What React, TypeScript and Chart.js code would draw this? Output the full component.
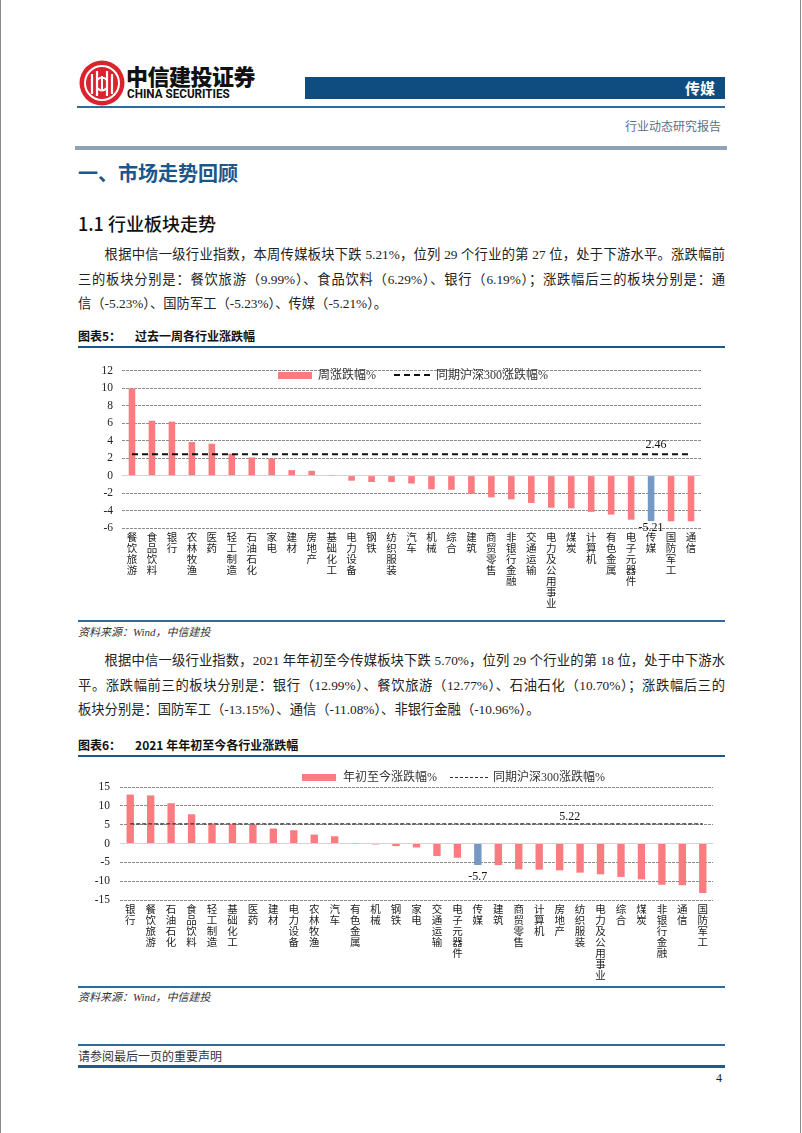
import React, { useEffect, useRef } from 'react';
import { Chart, registerables } from 'chart.js';

Chart.register(...registerables);

// ---------------- DATA ----------------
const weekCategories = ['餐饮旅游', '食品饮料', '银行', '农林牧渔', '医药', '轻工制造', '石油石化', '家电', '建材', '房地产', '基础化工', '电力设备', '钢铁', '纺织服装', '汽车', '机械', '综合', '建筑', '商贸零售', '非银行金融', '交通运输', '电力及公用事业', '煤炭', '计算机', '有色金属', '电子元器件', '传媒', '国防军工', '通信'];
const weekChange = [9.99, 6.29, 6.19, 3.85, 3.66, 2.52, 2.08, 1.97, 0.63, 0.55, 0.02, -0.58, -0.73, -0.74, -0.91, -1.56, -1.62, -2.08, -2.49, -2.72, -3.13, -3.68, -3.75, -4.15, -4.46, -5.05, -5.21, -5.23, -5.23];
const weekHs300 = 2.46;
const weekTicks = { min: -6, max: 12, step: 2 };

const ytdCategories = ['银行', '餐饮旅游', '石油石化', '食品饮料', '轻工制造', '基础化工', '医药', '建材', '电力设备', '农林牧渔', '汽车', '有色金属', '机械', '钢铁', '家电', '交通运输', '电子元器件', '传媒', '建筑', '商贸零售', '计算机', '房地产', '纺织服装', '电力及公用事业', '综合', '煤炭', '非银行金融', '通信', '国防军工'];
const ytdChange = [12.99, 12.77, 10.70, 7.76, 5.28, 5.19, 5.01, 3.96, 3.52, 2.37, 1.93, 0.04, -0.26, -0.70, -1.05, -3.34, -3.78, -5.70, -5.74, -6.86, -6.95, -7.12, -7.74, -8.18, -8.88, -9.50, -10.96, -11.08, -13.15];
const ytdHs300 = 5.22;
const ytdTicks = { min: -15, max: 15, step: 5 };

const highlight = '传媒';

// ---------------- STYLE ----------------
const RED = '#fa7c80';
const BLUE = '#7599c3';
const SERIF = '"Liberation Serif", "Times New Roman", "Noto Sans CJK SC", serif';
const SANS = '"Noto Sans CJK SC", "Noto Sans", sans-serif';
const NAVY = '#1d5689';

const valueLabels = {
  id: 'valueLabels',
  afterDatasetsDraw(chart: any, _args: any, opts: any) {
    const ctx = chart.ctx;
    (opts.items || []).forEach((it: any) => {
      const el = chart.getDatasetMeta(it.dataset).data[it.index];
      if (!el) return;
      const p = el.getProps(['x', 'y', 'base'], true);
      ctx.save();
      ctx.font = `12px ${SERIF}`;
      ctx.fillStyle = '#111';
      ctx.textAlign = 'center';
      if (it.pos === 'above') {
        ctx.textBaseline = 'bottom';
        ctx.fillText(it.text, p.x + (it.dx || 0), p.y - (it.dy || 0));
      } else {
        ctx.textBaseline = 'top';
        ctx.fillText(it.text, p.x + (it.dx || 0), p.y + (it.dy || 0));
      }
      ctx.restore();
    });
  },
};

type ChartProps = {
  categories: string[];
  values: number[];
  refValue: number;
  ticks: { min: number; max: number; step: number };
  barName: string;
  lineName: string;
  left: number; top: number; width: number; height: number;
  padTop: number; padRight: number; yWidth: number; xHeight: number;
  barPct: number; lineWidth: number; lineDash: number[]; lineColor: string;
  lineLabelIndex: number; lineLabelDx: number; lineLabelDy: number;
  barLabelDy: number; yPad: number;
};

function IndustryChart(p: ChartProps) {
  const ref = useRef<HTMLCanvasElement | null>(null);
  useEffect(() => {
    if (!ref.current) return;
    const hi = p.categories.indexOf(highlight);
    const chart = new Chart(ref.current, {
      type: 'bar',
      data: {
        labels: p.categories.map((c) => Array.from(c)),
        datasets: [
          {
            type: 'line',
            label: p.lineName,
            data: p.categories.map(() => p.refValue),
            borderColor: p.lineColor,
            borderWidth: p.lineWidth,
            borderDash: p.lineDash,
            pointRadius: 0,
            fill: false,
            order: 0,
          } as any,
          {
            type: 'bar',
            label: p.barName,
            data: p.values,
            backgroundColor: p.categories.map((c) => (c === highlight ? BLUE : RED)),
            barPercentage: p.barPct,
            categoryPercentage: 1,
            order: 1,
          },
        ],
      },
      options: {
        responsive: false,
        maintainAspectRatio: false,
        animation: false,
        layout: { padding: { top: p.padTop, right: p.padRight, bottom: 0, left: 0 } },
        plugins: {
          legend: { display: false },
          tooltip: { enabled: false },
          valueLabels: {
            items: [
              { dataset: 0, index: p.lineLabelIndex, text: String(p.refValue), pos: 'above', dx: p.lineLabelDx, dy: p.lineLabelDy },
              { dataset: 1, index: hi, text: String(p.values[hi]), pos: 'below', dx: 0, dy: p.barLabelDy },
            ],
          },
        } as any,
        scales: {
          x: {
            grid: { display: false, drawTicks: false },
            border: { display: false },
            ticks: {
              autoSkip: false,
              maxRotation: 0,
              minRotation: 0,
              padding: 5,
              color: '#222',
              font: { family: SERIF, size: 10.5, lineHeight: 1.05 },
            },
            afterFit: (s: any) => { s.height = p.xHeight; },
          },
          y: {
            min: p.ticks.min,
            max: p.ticks.max,
            ticks: {
              stepSize: p.ticks.step,
              padding: p.yPad,
              color: '#222',
              font: { family: SERIF, size: 11.5 },
            },
            grid: {
              drawTicks: false,
              lineWidth: 1,
              color: (c: any) => (c.tick && c.tick.value === 0 ? '#d4d4d4' : '#8c8c8c'),
            },
            border: {
              display: false,
              dash: (c: any) => (c.tick && c.tick.value === 0 ? [] : [3, 1]),
            } as any,
            afterFit: (s: any) => { s.width = p.yWidth; },
          },
        },
      },
      plugins: [valueLabels as any],
    });
    return () => chart.destroy();
  }, []);
  return (
    <canvas
      ref={ref}
      width={p.width}
      height={p.height}
      style={{ position: 'absolute', left: p.left, top: p.top, width: p.width, height: p.height }}
    />
  );
}

function T(props: { x: number; y: number; size: number; children: any; style?: any; right?: boolean }) {
  const base: any = {
    position: 'absolute',
    top: props.y - props.size * 0.6,
    lineHeight: `${props.size * 1.2}px`,
    fontSize: props.size,
    whiteSpace: 'nowrap',
    margin: 0,
  };
  if (props.right) base.right = 802 - props.x; else base.left = props.x;
  return <div style={{ ...base, ...(props.style || {}) }}>{props.children}</div>;
}

function Line(props: { x: number; y: number; w: number; h: number; color: string }) {
  return <div style={{ position: 'absolute', left: props.x, top: props.y, width: props.w, height: props.h, background: props.color }} />;
}

function PLine(props: { y: number; text: string; indent?: boolean; justify?: boolean }) {
  return (
    <div
      style={{
        position: 'absolute',
        left: 78,
        top: props.y - 10,
        width: 647,
        height: 20,
        lineHeight: '20px',
        fontSize: 13.3,
        fontFamily: SERIF,
        color: '#222',
        whiteSpace: 'nowrap',
        textIndent: props.indent ? '2em' : 0,
        textAlign: 'justify',
        textAlignLast: props.justify ? 'justify' : 'left',
      } as any}
    >
      {props.text}
    </div>
  );
}

function Legend(props: { y: number; rectX: number; barName: string; textX: number; dashX: number; dashW: number; dashColor: string; dashH: number; lineTextX: number; lineName: string }) {
  return (
    <>
      <div style={{ position: 'absolute', left: props.rectX, top: props.y - 3.5, width: 34, height: 7, background: RED }} />
      <T x={props.textX} y={props.y} size={12} style={{ fontFamily: SERIF, color: '#333' }}>{props.barName}</T>
      <div style={{ position: 'absolute', left: props.dashX, top: props.y - props.dashH / 2, width: props.dashW, height: 0, borderTop: `${props.dashH}px dashed ${props.dashColor}` }} />
      <T x={props.lineTextX} y={props.y} size={12} style={{ fontFamily: SERIF, color: '#333' }}>{props.lineName}</T>
    </>
  );
}

function Logo() {
  return (
    <svg width="46" height="46" viewBox="0 0 46 46" style={{ position: 'absolute', left: 79, top: 60 }}>
      <circle cx="23" cy="23" r="22.5" fill="#d9232d" />
      <circle cx="23" cy="23" r="17" fill="none" stroke="#fff" strokeWidth="2" />
      <path d="M13 14 L13 34 M33 14 L33 34" stroke="#fff" strokeWidth="2.2" fill="none" />
      <path d="M18 11 L18 36 M28 11 L28 36" stroke="#fff" strokeWidth="2.2" fill="none" />
      <path d="M18 20 Q23 15 28 20" stroke="#fff" strokeWidth="2" fill="none" />
      <path d="M18 28 Q23 33 28 28" stroke="#fff" strokeWidth="2" fill="none" />
      <path d="M23 16 L23 31" stroke="#fff" strokeWidth="2" />
    </svg>
  );
}

export default function App() {
  useEffect(() => {
    document.body.style.margin = '0';
  }, []);
  return (
    <div style={{ position: 'absolute', left: 0, top: 0, width: 802, height: 1133, background: '#fff', overflow: 'hidden', fontFamily: SERIF }}>
      <div style={{ position: 'absolute', left: 0, top: 0, width: 1, height: 1133, background: '#8a8a8a' }} />
      <div style={{ position: 'absolute', left: 800, top: 0, width: 1, height: 1133, background: '#8a8a8a' }} />

      {/* header */}
      <Logo />
      <T x={126} y={75} size={22} style={{ fontFamily: SANS, fontWeight: 900, color: '#111', letterSpacing: -0.5 }}>中信建投证券</T>
      <T x={127} y={94} size={13} style={{ fontFamily: '"Liberation Sans Narrow", "Roboto", sans-serif', fontWeight: 700, color: '#111', transform: 'scaleX(0.9)', transformOrigin: 'left' }}>CHINA SECURITIES</T>
      <div style={{ position: 'absolute', left: 305, top: 77, width: 420, height: 22, background: '#0f4c7f' }} />
      <T x={715} y={88} size={15} right style={{ fontFamily: SANS, fontWeight: 700, color: '#fff' }}>传媒</T>
      <Line x={77} y={106} w={648} h={1.5} color="#2c6aa0" />
      <T x={721} y={127} size={12} right style={{ fontFamily: SERIF, color: '#5b7088' }}>行业动态研究报告</T>
      <Line x={75} y={146} w={652} h={4} color="#8ea3b7" />

      {/* headings */}
      <T x={78} y={173} size={20} style={{ fontFamily: SANS, fontWeight: 700, color: NAVY }}>一、市场走势回顾</T>
      <T x={78} y={224} size={18} style={{ fontFamily: SANS, fontWeight: 500, color: '#111' }}>1.1 行业板块走势</T>

      <PLine y={255} indent justify text="根据中信一级行业指数，本周传媒板块下跌 5.21%，位列 29 个行业的第 27 位，处于下游水平。涨跌幅前" />
      <PLine y={280} justify text="三的板块分别是：餐饮旅游（9.99%）、食品饮料（6.29%）、银行（6.19%）；涨跌幅后三的板块分别是：通" />
      <PLine y={304} text="信（-5.23%）、国防军工（-5.23%）、传媒（-5.21%）。" />

      {/* chart 1 */}
      <T x={78} y={336} size={12} style={{ fontFamily: SANS, fontWeight: 700, color: '#111' }}>
        <span style={{ marginRight: 14 }}>图表5：</span>过去一周各行业涨跌幅
      </T>
      <Line x={78} y={346} w={647} h={2} color={NAVY} />
      <IndustryChart
        categories={weekCategories}
        values={weekChange}
        refValue={weekHs300}
        ticks={weekTicks}
        barName="周涨跌幅%"
        lineName="同期沪深300涨跌幅%"
        left={70} top={355} width={660} height={255}
        padTop={7} padRight={29} yWidth={52} xHeight={82}
        barPct={0.33} lineWidth={2} lineDash={[6, 4]} lineColor="#111"
        lineLabelIndex={26} lineLabelDx={5} lineLabelDy={3}
        barLabelDy={1} yPad={9}
      />
      <Legend y={375} rectX={278} barName="周涨跌幅%" textX={318} dashX={394} dashW={36} dashColor="#111" dashH={2} lineTextX={436} lineName="同期沪深300涨跌幅%" />
      <Line x={78} y={620} w={647} h={1.5} color="#2c6aa0" />
      <T x={78} y={633} size={11} style={{ fontFamily: SERIF, fontStyle: 'italic', color: '#333' }}>资料来源：Wind，中信建投</T>

      <PLine y={661} indent justify text="根据中信一级行业指数，2021 年年初至今传媒板块下跌 5.70%，位列 29 个行业的第 18 位，处于中下游水" />
      <PLine y={686} justify text="平。涨跌幅前三的板块分别是：银行（12.99%）、餐饮旅游（12.77%）、石油石化（10.70%）；涨跌幅后三的" />
      <PLine y={710} text="板块分别是：国防军工（-13.15%）、通信（-11.08%）、非银行金融（-10.96%）。" />

      {/* chart 2 */}
      <T x={78} y={745} size={12} style={{ fontFamily: SANS, fontWeight: 700, color: '#111' }}>
        <span style={{ marginRight: 14 }}>图表6：</span>2021 年年初至今各行业涨跌幅
      </T>
      <Line x={78} y={755} w={647} h={2} color={NAVY} />
      <IndustryChart
        categories={ytdCategories}
        values={ytdChange}
        refValue={ytdHs300}
        ticks={ytdTicks}
        barName="年初至今涨跌幅%"
        lineName="同期沪深300涨跌幅%"
        left={70} top={770} width={660} height={212}
        padTop={17} padRight={17} yWidth={50} xHeight={82}
        barPct={0.36} lineWidth={1.2} lineDash={[4, 2]} lineColor="#333"
        lineLabelIndex={21} lineLabelDx={10} lineLabelDy={1}
        barLabelDy={6} yPad={10}
      />
      <Legend y={777} rectX={302} barName="年初至今涨跌幅%" textX={343} dashX={450} dashW={38} dashColor="#333" dashH={1} lineTextX={493} lineName="同期沪深300涨跌幅%" />
      <Line x={78} y={986} w={647} h={1.5} color="#2c6aa0" />
      <T x={78} y={998} size={11} style={{ fontFamily: SERIF, fontStyle: 'italic', color: '#333' }}>资料来源：Wind，中信建投</T>

      {/* footer */}
      <Line x={78} y={1044} w={647} h={1.5} color="#2c6aa0" />
      <T x={78} y={1057} size={12} style={{ fontFamily: SERIF, color: '#333' }}>请参阅最后一页的重要声明</T>
      <Line x={78} y={1065} w={647} h={3} color="#1f5a8c" />
      <T x={722} y={1078} size={12} right style={{ fontFamily: SERIF, color: '#222' }}>4</T>
    </div>
  );
}
